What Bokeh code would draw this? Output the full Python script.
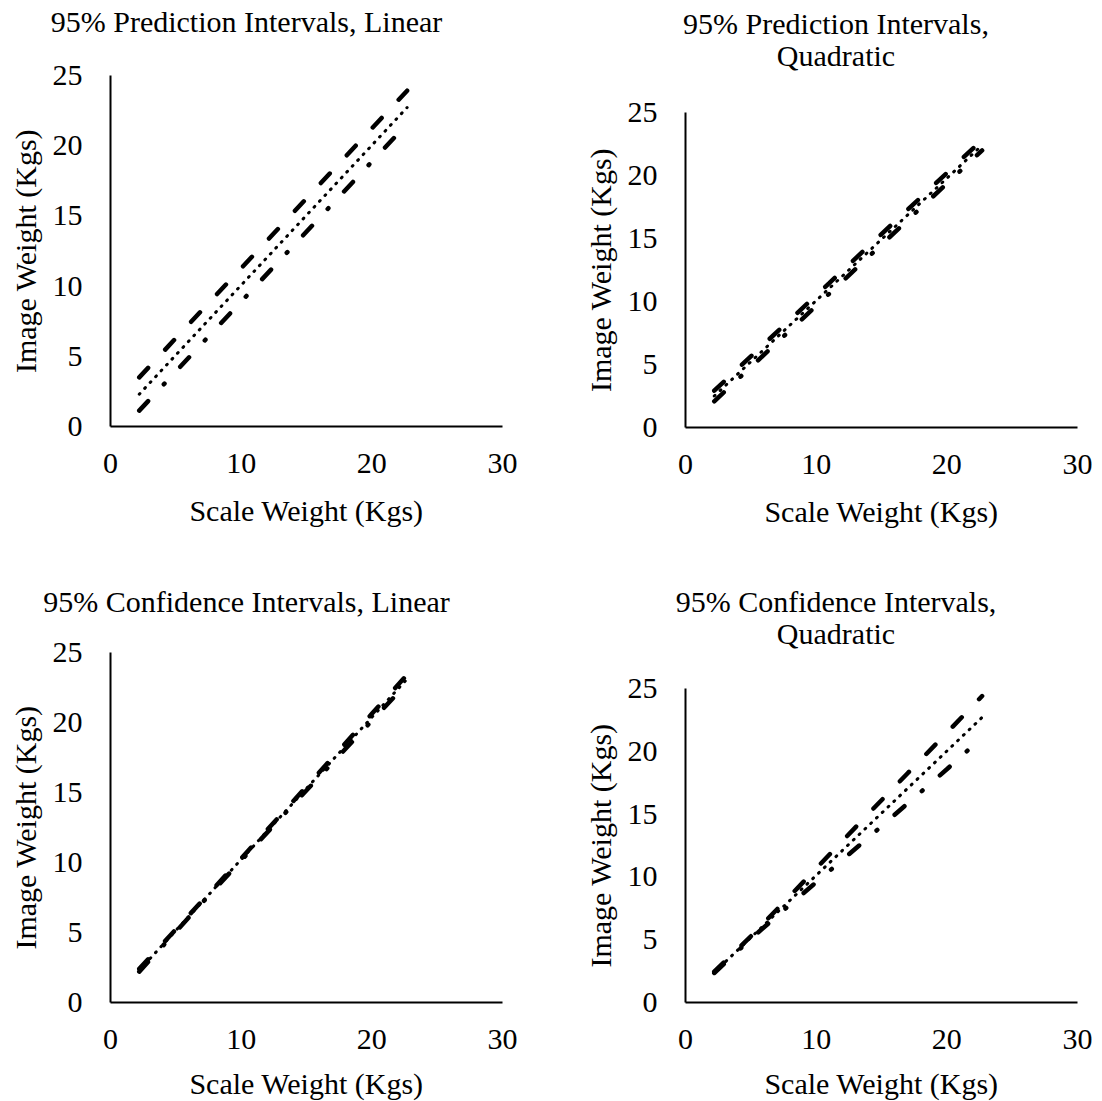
from bokeh.plotting import figure
from bokeh.models import Range1d, FixedTicker, Label, LinearAxis
from bokeh.layouts import column, row
from bokeh.embed import file_html
from bokeh.resources import INLINE

# ---------------- data ----------------
scale_weight = [2.2, 5, 8, 11, 14, 17, 20, 22.7]

# 95% Prediction Intervals, Linear
pi_lin_fit = [2.30, 5.09, 8.08, 11.06, 14.05, 17.04, 20.03, 22.72]
pi_lin_upper = [3.50, 6.29, 9.28, 12.26, 15.25, 18.24, 21.23, 23.92]
pi_lin_lower = [1.13, 3.92, 6.91, 9.89, 12.88, 15.87, 18.86, 21.55]

# 95% Prediction Intervals, Quadratic
pi_quad_fit = [2.50, 5.22, 8.13, 11.04, 13.96, 16.87, 19.78, 22.41]
pi_quad_upper = [2.92, 5.64, 8.55, 11.46, 14.38, 17.29, 20.20, 22.83]
pi_quad_lower = [2.08, 4.80, 7.71, 10.62, 13.54, 16.45, 19.36, 21.99]

# 95% Confidence Intervals, Linear
ci_lin_fit = [2.30, 5.14, 8.19, 11.23, 14.28, 17.32, 20.37, 23.11]
ci_lin_upper = [2.40, 5.22, 8.26, 11.31, 14.40, 17.50, 20.62, 23.41]
ci_lin_lower = [2.20, 5.06, 8.12, 11.15, 14.16, 17.14, 20.12, 22.81]

# 95% Confidence Intervals, Quadratic
ci_quad_fit = [2.40, 5.17, 8.14, 11.11, 14.08, 17.05, 20.02, 22.70]
ci_quad_upper = [2.45, 5.27, 8.49, 11.76, 15.03, 18.25, 21.47, 24.40]
ci_quad_lower = [2.35, 5.07, 7.79, 10.46, 13.13, 15.85, 18.57, 21.10]

x_ticks = [0, 10, 20, 30]
y_ticks = [0, 5, 10, 15, 20, 25]
x_title = "Scale Weight (Kgs)"
y_title = "Image Weight (Kgs)"

FONT = "Liberation Serif"
FS = "30px"
X_MAX, Y_MAX = 30, 25


def make_panel(title_lines, fit, upper, lower, W, H, x0, x1, y0, y1, t_cx, t_baselines, xlab_standoff):
    """x0/x1: pixel columns of x=0 / x=30 ; y0/y1: pixel rows of y=0 / y=25 (from top)."""
    kx = (x1 - x0) / X_MAX
    ky = (y0 - y1) / Y_MAX
    xr = Range1d(-x0 / kx, (W - x0) / kx)
    yr = Range1d(-(H - y0) / ky, y0 / ky)

    p = figure(width=W, height=H, x_range=xr, y_range=yr,
               output_backend="svg", toolbar_location=None,
               x_axis_location=None, y_axis_location=None,
               min_border=0, min_border_left=0, min_border_right=0,
               min_border_top=0, min_border_bottom=0)
    p.title = None
    p.outline_line_color = None
    p.background_fill_color = "white"
    p.border_fill_color = "white"
    try:
        p.grid.visible = False
    except Exception:
        pass

    p.line(scale_weight, fit, line_width=3, line_color="black", line_dash="1 7", line_cap="round")
    p.line(scale_weight, upper, line_width=4.5, line_color="black", line_dash="13 25", line_cap="round")
    p.line(scale_weight, lower, line_width=4.5, line_color="black", line_dash="13 23 1 23", line_cap="round")

    xa = LinearAxis(fixed_location=0, bounds=(0, X_MAX), ticker=FixedTicker(ticks=x_ticks))
    ya = LinearAxis(fixed_location=0, bounds=(0, Y_MAX), ticker=FixedTicker(ticks=y_ticks))
    for ax in (xa, ya):
        ax.axis_line_color = "black"
        ax.axis_line_width = 2
        ax.major_tick_line_color = None
        ax.minor_tick_line_color = None
        ax.major_tick_out = 0
        ax.major_tick_in = 0
        ax.major_label_text_font = FONT
        ax.major_label_text_font_size = FS
        ax.major_label_text_color = "black"
        ax.axis_label_text_font = FONT
        ax.axis_label_text_font_size = FS
        ax.axis_label_text_font_style = "normal"
        ax.axis_label_text_color = "black"
    xa.axis_label = x_title
    ya.axis_label = y_title
    xa.major_label_standoff = 27
    xa.axis_label_standoff = xlab_standoff
    ya.major_label_standoff = 28
    ya.axis_label_standoff = 8
    p.add_layout(xa, "below")
    p.add_layout(ya, "left")

    for line, bl in zip(title_lines, t_baselines):
        p.add_layout(Label(x=(t_cx - x0) / kx, y=(y0 - bl) / ky, text=line,
                           text_font=FONT, text_font_size=FS, text_color="black",
                           text_align="center", text_baseline="alphabetic"))
    return p


p1 = make_panel(["95% Prediction Intervals, Linear"], pi_lin_fit, pi_lin_upper, pi_lin_lower,
                551, 551, 110, 502, 426, 75, 246, [21], 18)
p2 = make_panel(["95% Prediction Intervals,", "Quadratic"], pi_quad_fit, pi_quad_upper, pi_quad_lower,
                551, 551, 134, 526, 427, 112, 284.5, [23, 55], 18)
p3 = make_panel(["95% Confidence Intervals, Linear"], ci_lin_fit, ci_lin_upper, ci_lin_lower,
                551, 550, 110, 502, 451, 101, 246, [50], 15)
p4 = make_panel(["95% Confidence Intervals,", "Quadratic"], ci_quad_fit, ci_quad_upper, ci_quad_lower,
                551, 550, 134, 526, 451, 137, 284.5, [50, 82], 15)

layout = column(row(p1, p2), row(p3, p4))
open("out.html", "w").write(file_html(layout, INLINE))
